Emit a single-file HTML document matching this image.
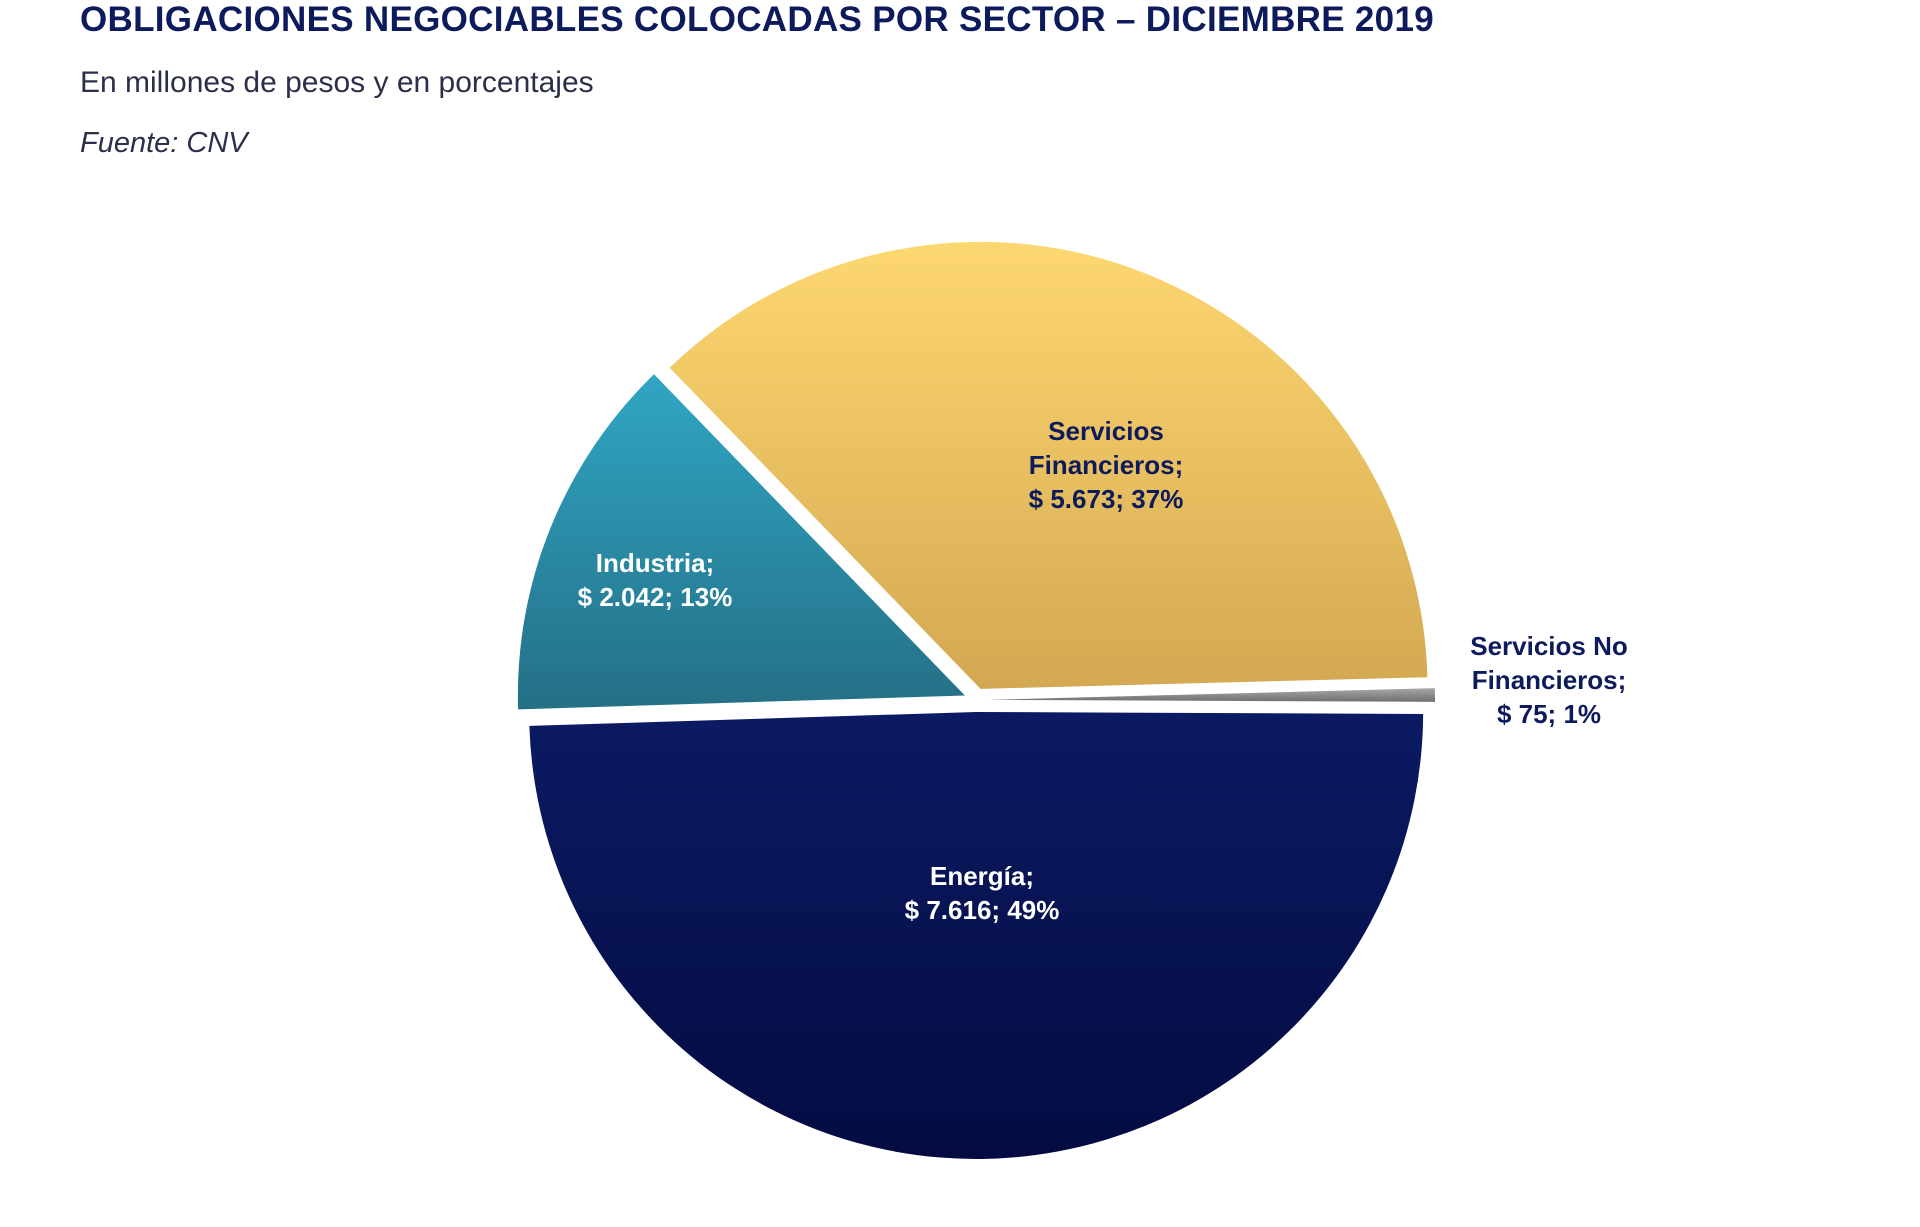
<!DOCTYPE html>
<html><head><meta charset="utf-8"><style>
html,body{margin:0;padding:0;background:#fff;width:1920px;height:1227px;overflow:hidden;font-family:"Liberation Sans",sans-serif;}
.t{position:absolute;left:80px;color:#0d1b5c;}
</style></head><body>
<div class="t" style="top:0px;font-size:35px;font-weight:bold;letter-spacing:0.3px">OBLIGACIONES NEGOCIABLES COLOCADAS POR SECTOR – DICIEMBRE 2019</div>
<div class="t" style="top:66px;font-size:30px;color:#2b2f4a">En millones de pesos y en porcentajes</div>
<div class="t" style="top:127px;font-size:29px;font-style:italic;color:#2b2f4a">Fuente: CNV</div>
<svg id="pie" width="1920" height="1227" style="position:absolute;left:0;top:0">
<defs>
<linearGradient id="g0" x1="0" y1="0" x2="0" y2="1"><stop offset="0" stop-color="#a8a8a8"/><stop offset="1" stop-color="#6f6f6f"/></linearGradient>
<linearGradient id="g1" x1="0" y1="0" x2="0" y2="1"><stop offset="0" stop-color="#0b1a62"/><stop offset="1" stop-color="#040b42"/></linearGradient>
<linearGradient id="g2" x1="0" y1="0" x2="0" y2="1"><stop offset="0" stop-color="#30a6c4"/><stop offset="1" stop-color="#246f86"/></linearGradient>
<linearGradient id="g3" x1="0" y1="0" x2="0" y2="1"><stop offset="0" stop-color="#fdd770"/><stop offset="1" stop-color="#d3a852"/></linearGradient>
</defs>
</svg>
<script>
const categories=["Servicios No Financieros","Energía","Industria","Servicios Financieros"];
const values=[75,7616,2042,5673];
const percents=["1%","49%","13%","37%"];
const amounts=["$ 75","$ 7.616","$ 2.042","$ 5.673"];
const svg=document.getElementById('pie');
const NS="http://www.w3.org/2000/svg";
const cx=976,cy=700,r=447,startDeg=-1.5,explode=12;
const total=values.reduce((a,b)=>a+b,0);
const fills=["url(#g0)","url(#g1)","url(#g2)","url(#g3)"];
const names=["slice-servicios-no-financieros","slice-energia","slice-industria","slice-servicios-financieros"];
let a=startDeg*Math.PI/180;
values.forEach((v,i)=>{
  const sweep=v/total*2*Math.PI;
  const mid=a+sweep/2;
  const ox=cx+explode*Math.cos(mid),oy=cy+explode*Math.sin(mid);
  const x1=ox+r*Math.cos(a),y1=oy+r*Math.sin(a);
  const x2=ox+r*Math.cos(a+sweep),y2=oy+r*Math.sin(a+sweep);
  const p=document.createElementNS(NS,'path');
  p.setAttribute('d',`M${ox},${oy}L${x1},${y1}A${r},${r} 0 ${sweep>Math.PI?1:0} 1 ${x2},${y2}Z`);
  p.setAttribute('fill',fills[i]);
  
  
  svg.appendChild(p);
  a+=sweep;
});
const labelPos=[[1549,655,"#0d1b5c"],[982,885,"#fff"],[655,572,"#fff"],[1106,440,"#0d1b5c"]];
const labelLines=[["Servicios No","Financieros;"],["Energía;"],["Industria;"],["Servicios","Financieros;"]];
values.forEach((v,i)=>{
  const lines=labelLines[i].concat([amounts[i]+"; "+percents[i]]);
  const t=document.createElementNS(NS,'text');
  
  
  t.setAttribute('x',labelPos[i][0]);t.setAttribute('y',labelPos[i][1]);
  t.setAttribute('text-anchor','middle');t.setAttribute('fill',labelPos[i][2]);
  t.setAttribute('font-size','26');t.setAttribute('font-weight','bold');
  t.setAttribute('font-family','Liberation Sans, sans-serif');
  lines.forEach((l,j)=>{const s=document.createElementNS(NS,'tspan');s.setAttribute('x',labelPos[i][0]);s.setAttribute('dy',j?34:0);s.textContent=l;t.appendChild(s);});
  svg.appendChild(t);
});
</script>
</body></html>
